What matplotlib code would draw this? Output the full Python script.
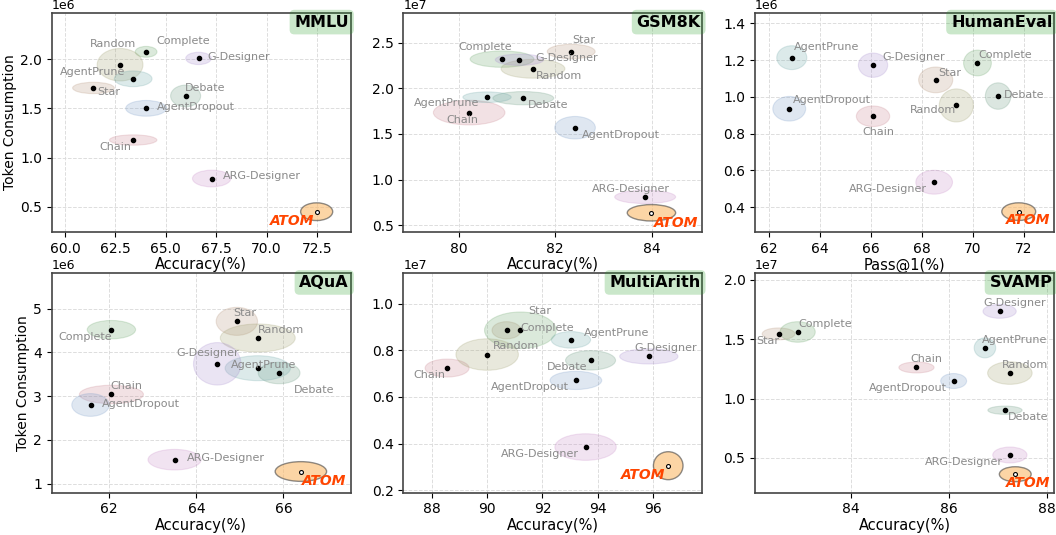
import matplotlib
matplotlib.use("Agg")
import matplotlib.pyplot as plt
from matplotlib.patches import Ellipse

methods = ["Chain", "Star", "Complete", "Random", "Debate", "AgentPrune",
           "AgentDropout", "G-Designer", "ARG-Designer", "ATOM"]

# MMLU (tokens in units of 1e6)
mmlu_acc = [63.38, 61.41, 64.02, 62.73, 65.98, 63.38, 64.02, 66.62, 67.27, 72.48]
mmlu_tok = [1.178, 1.707, 2.074, 1.943, 1.626, 1.80, 1.50, 2.007, 0.787, 0.45]
mmlu_acc_spread = [2.35, 2.07, 1.08, 2.27, 1.49, 1.87, 2.02, 1.27, 1.90, 1.59]
mmlu_tok_spread = [0.105, 0.115, 0.11, 0.33, 0.22, 0.16, 0.16, 0.125, 0.17, 0.18]

# GSM8K (1e7)
gsm_acc = [80.22, 82.33, 80.90, 81.54, 81.34, 80.59, 82.41, 81.26, 83.86, 83.99]
gsm_tok = [1.735, 2.405, 2.322, 2.216, 1.893, 1.904, 1.569, 2.315, 0.809, 0.635]
gsm_acc_spread = [1.48, 0.99, 1.32, 1.32, 1.26, 1.0, 0.84, 1.0, 1.26, 1.0]
gsm_tok_spread = [0.27, 0.16, 0.18, 0.207, 0.145, 0.116, 0.247, 0.124, 0.145, 0.18]

# HumanEval (1e6)
he_acc = [66.08, 68.54, 70.18, 69.35, 70.99, 62.89, 62.79, 66.08, 68.48, 71.80]
he_tok = [0.895, 1.093, 1.185, 0.954, 1.005, 1.214, 0.936, 1.173, 0.536, 0.376]
he_acc_spread = [1.31, 1.34, 1.09, 1.34, 1.0, 1.18, 1.29, 1.15, 1.44, 1.33]
he_tok_spread = [0.112, 0.14, 0.14, 0.18, 0.144, 0.13, 0.134, 0.132, 0.13, 0.096]

# AQuA (1e6)
aqua_acc = [62.05, 64.93, 62.05, 65.41, 65.90, 65.41, 61.57, 64.48, 63.50, 66.40]
aqua_tok = [3.04, 4.71, 4.52, 4.33, 3.53, 3.64, 2.80, 3.74, 1.55, 1.28]
aqua_acc_spread = [1.47, 0.95, 1.11, 1.72, 0.96, 1.5, 0.86, 1.09, 1.22, 1.18]
aqua_tok_spread = [0.42, 0.64, 0.42, 0.64, 0.49, 0.57, 0.52, 0.97, 0.47, 0.45]

# MultiArith (1e7)
ma_acc = [88.55, 90.70, 91.20, 90.00, 93.74, 93.03, 93.21, 95.85, 93.56, 96.55]
ma_tok = [0.724, 0.886, 0.886, 0.782, 0.757, 0.845, 0.671, 0.774, 0.385, 0.305]
ma_acc_spread = [1.59, 1.05, 2.59, 2.26, 1.81, 1.42, 1.87, 2.11, 2.22, 1.07]
ma_tok_spread = [0.077, 0.074, 0.157, 0.135, 0.083, 0.071, 0.078, 0.065, 0.114, 0.12]

# SVAMP (1e7)
sv_acc = [85.34, 82.52, 82.91, 87.25, 87.15, 86.74, 86.10, 87.04, 87.25, 87.36]
sv_tok = [1.262, 1.545, 1.561, 1.215, 0.902, 1.427, 1.148, 1.735, 0.525, 0.363]
sv_acc_spread = [0.72, 0.67, 0.72, 0.91, 0.7, 0.44, 0.53, 0.68, 0.7, 0.65]
sv_tok_spread = [0.092, 0.1, 0.173, 0.19, 0.07, 0.168, 0.126, 0.117, 0.134, 0.126]

colors = ["#c9848f", "#b5937a", "#6aa56a", "#a0a070", "#6a9a80", "#6fa8a8",
          "#7a9cc8", "#a98fd0", "#c88cc8", "#fbb96a"]

# label offsets in points, same order as methods
offsets = {
    "MMLU": [(-13, -5), (11, -3), (27, 8), (-5, 15), (14, 6), (-29, 5), (36, 1), (29, 1), (36, 2), (-18, -7)],
    "GSM8K": [(-5, -5), (9, 8), (-12, 9), (19, -5), (18, -5), (-29, -4), (33, -5), (34, 1), (-10, 6), (18, -7)],
    "HumanEval": [(4, -11), (10, 5), (20, 6), (-17, -3), (19, 1), (25, 8), (31, 6), (29, 6), (-33, -5), (7, -6)],
    "AQuA": [(11, 6), (6, 6), (-19, -5), (17, 6), (25, -12), (4, 2), (36, 1), (-7, 8), (37, 1), (17, -7)],
    "MultiArith": [(-13, -5), (24, 14), (19, 2), (21, 6), (-17, -5), (33, 5), (-33, -5), (12, 6), (-33, -5), (-18, -7)],
    "SVAMP": [(7, 6), (-8, -5), (20, 6), (11, 6), (17, -5), (21, 6), (-33, -5), (11, 6), (-33, -5), (9, -6)],
}

panels = [
    ("MMLU", mmlu_acc, mmlu_tok, mmlu_acc_spread, mmlu_tok_spread, 1e6, "Accuracy(%)",
     (59.34, 74.16), (0.24, 2.47), [60, 62.5, 65, 67.5, 70, 72.5], [0.5, 1.0, 1.5, 2.0]),
    ("GSM8K", gsm_acc, gsm_tok, gsm_acc_spread, gsm_tok_spread, 1e7, "Accuracy(%)",
     (78.86, 85.04), (0.42, 2.83), [80, 82, 84], [0.5, 1.0, 1.5, 2.0, 2.5]),
    ("HumanEval", he_acc, he_tok, he_acc_spread, he_tok_spread, 1e6, "Pass@1(%)",
     (61.45, 73.18), (0.263, 1.458), [62, 64, 66, 68, 70, 72], [0.4, 0.6, 0.8, 1.0, 1.2, 1.4]),
    ("AQuA", aqua_acc, aqua_tok, aqua_acc_spread, aqua_tok_spread, 1e6, "Accuracy(%)",
     (60.68, 67.54), (0.795, 5.81), [62, 64, 66], [1, 2, 3, 4, 5]),
    ("MultiArith", ma_acc, ma_tok, ma_acc_spread, ma_tok_spread, 1e7, "Accuracy(%)",
     (86.97, 97.78), (0.189, 1.131), [88, 90, 92, 94, 96], [0.2, 0.4, 0.6, 0.8, 1.0]),
    ("SVAMP", sv_acc, sv_tok, sv_acc_spread, sv_tok_spread, 1e7, "Accuracy(%)",
     (82.04, 88.15), (0.207, 2.056), [84, 86, 88], [0.5, 1.0, 1.5, 2.0]),
]

fig, axes = plt.subplots(2, 3, figsize=(10.56, 5.35), dpi=100)
fig.subplots_adjust(left=0.049, right=0.998, top=0.976, bottom=0.079, wspace=0.177, hspace=0.186)

for i, (name, acc, tok, aw, th, scale, xlab, xl, yl, xt, yt) in enumerate(panels):
    ax = axes.flat[i]
    for j, m in enumerate(methods):
        x, y = acc[j], tok[j] * scale
        if m == "ATOM":
            e = Ellipse((x, y), aw[j], th[j] * scale, facecolor=colors[j], alpha=0.6,
                        edgecolor="#444444", linewidth=1.0, zorder=2)
            ax.add_patch(e)
            ax.scatter([x], [y], s=8, facecolor="white", edgecolor="black", linewidth=0.8, zorder=4)
            ax.annotate(m, (x, y), xytext=offsets[name][j], textcoords="offset points",
                        ha="center", va="center", fontsize=10, color="#ff4500",
                        fontweight="bold", style="italic", zorder=5)
        else:
            e = Ellipse((x, y), aw[j], th[j] * scale, facecolor=colors[j], alpha=0.24,
                        edgecolor=colors[j], linewidth=0.8, zorder=2)
            ax.add_patch(e)
            ax.scatter([x], [y], s=9, color="black", zorder=4)
            ax.annotate(m, (x, y), xytext=offsets[name][j], textcoords="offset points",
                        ha="center", va="center", fontsize=8, color="#8a8a8a", zorder=5)

    ax.set_xlim(xl)
    ax.set_ylim(yl[0] * scale, yl[1] * scale)
    ax.set_xticks(xt)
    ax.set_yticks([v * scale for v in yt])
    ax.tick_params(labelsize=10)
    ax.yaxis.get_offset_text().set_fontsize(9)
    ax.grid(True, linestyle="--", color="#dddddd", linewidth=0.7)
    ax.set_axisbelow(True)
    for s in ax.spines.values():
        s.set_color("#444444")
        s.set_linewidth(1.2)
    ax.set_xlabel(xlab, fontsize=10.5, labelpad=1)
    if i % 3 == 0:
        ax.set_ylabel("Token Consumption", fontsize=10, labelpad=2)
    ax.text(0.995, 0.992, name, transform=ax.transAxes, ha="right", va="top",
            fontsize=11.5, fontweight="bold", zorder=6,
            bbox=dict(boxstyle="round,pad=0.3", facecolor="#2ca02c", alpha=0.25, edgecolor="none"))

fig.savefig("out.png", dpi=100)
